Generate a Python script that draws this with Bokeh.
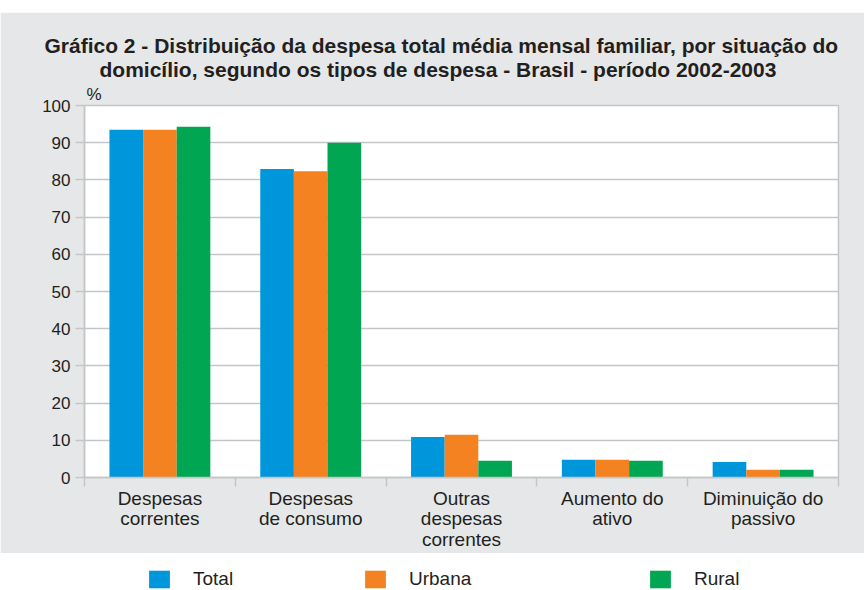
from bokeh.plotting import figure
from bokeh.models import Range1d, FixedTicker, Legend, LegendItem, ColumnDataSource, Title, Spacer
from bokeh.layouts import column
from bokeh.embed import file_html
from bokeh.resources import INLINE

# ---- data ----
categories = ["Despesas\ncorrentes", "Despesas\nde consumo", "Outras\ndespesas\ncorrentes",
              "Aumento do\nativo", "Diminuição do\npassivo"]
series_names = ["Total", "Urbana", "Rural"]
total = [93.5, 82.9, 10.9, 4.8, 4.2]
urbana = [93.5, 82.3, 11.5, 4.8, 2.1]
rural = [94.3, 90.0, 4.5, 4.5, 2.1]
y_ticks = list(range(0, 101, 10))
title_lines = ["Gráfico 2 - Distribuição da despesa total média mensal familiar, por situação do",
               "domicílio, segundo os tipos de despesa - Brasil - período 2002-2003"]
unit_label = "%"

colors = ["#0096db", "#f58220", "#00a651"]
FONT = "Liberation Sans"
TXT = "#231f20"
GRID = "#c4c5c7"
BG = "#e6e7e8"

n = len(categories)
p = figure(width=864, height=541, x_range=Range1d(0, n), y_range=Range1d(0, 100),
           output_backend="svg", toolbar_location=None,
           min_border_left=84, min_border_right=26, min_border_top=93, min_border_bottom=76,
           background_fill_color="white", border_fill_color=BG,
           outline_line_color=GRID, outline_line_width=1.5)

bar_w = 0.223
series = [total, urbana, rural]
for s_i, (vals, col) in enumerate(zip(series, colors)):
    xs = [i + 0.5 + (s_i - 1) * bar_w for i in range(n)]
    src = ColumnDataSource(dict(x=xs, top=vals))
    p.vbar(x="x", top="top", width=bar_w, source=src, fill_color=col, line_color=None)

# y axis
p.yaxis.ticker = FixedTicker(ticks=y_ticks)
p.yaxis.minor_tick_line_color = None
p.yaxis.major_tick_in = 0
p.yaxis.major_tick_out = 9
p.yaxis.major_tick_line_color = GRID
p.yaxis.major_tick_line_width = 1.5
p.yaxis.axis_line_color = GRID
p.yaxis.axis_line_width = 1.5
p.yaxis.major_label_text_font = FONT
p.yaxis.major_label_text_font_size = "17px"
p.yaxis.major_label_text_color = TXT
p.yaxis.major_label_standoff = 5
p.yaxis.axis_label_standoff = 0

# x axis: labels at category centres, separators as minor ticks
centers = [i + 0.5 for i in range(n)]
p.xaxis.ticker = FixedTicker(ticks=centers, minor_ticks=list(range(n + 1)))
p.xaxis.major_label_overrides = {c: cat for c, cat in zip(centers, categories)}
p.xaxis.major_tick_line_color = None
p.xaxis.major_tick_in = 0
p.xaxis.major_tick_out = 0
p.xaxis.minor_tick_in = 0
p.xaxis.minor_tick_out = 9
p.xaxis.minor_tick_line_color = GRID
p.xaxis.minor_tick_line_width = 1.5
p.xaxis.axis_line_color = GRID
p.xaxis.axis_line_width = 1.5
p.xaxis.major_label_text_font = FONT
p.xaxis.major_label_text_font_size = "19px"
p.xaxis.major_label_text_color = TXT
p.xaxis.major_label_text_line_height = 0.98
p.xaxis.major_label_standoff = 1
p.xaxis.axis_label_standoff = 0

p.xgrid.visible = False
p.ygrid.ticker = FixedTicker(ticks=y_ticks)
p.ygrid.grid_line_color = GRID
p.ygrid.grid_line_width = 1.5

# titles (first added sits nearest the plot)
p.add_layout(Title(text=unit_label, align="left", offset=2, standoff=3,
                   text_font=FONT, text_font_size="17px", text_font_style="normal",
                   text_color=TXT), "above")
p.add_layout(Title(text=title_lines[1], align="left", offset=15, standoff=1,
                   text_font=FONT, text_font_size="21px", text_font_style="bold",
                   text_color=TXT), "above")
p.add_layout(Title(text=title_lines[0], align="left", offset=-40, standoff=-2,
                   text_font=FONT, text_font_size="21px", text_font_style="bold",
                   text_color=TXT), "above")

# legend figure
p2 = figure(width=864, height=37, output_backend="svg", toolbar_location=None,
            min_border_left=84, min_border_right=26, min_border_top=0, min_border_bottom=0,
            x_axis_location=None, y_axis_location=None,
            background_fill_color="white", border_fill_color="white",
            outline_line_color=None)
p2.grid.visible = False
legend_x = [62, 278, 563]
for name, col, lx in zip(series_names, colors, legend_x):
    r = p2.vbar(x=[0], top=[0], bottom=[0], width=0, fill_color=col, line_color=None)
    leg = Legend(items=[LegendItem(label=name, renderers=[r])], location=(lx, 0),
                 orientation="horizontal", glyph_width=26, glyph_height=22,
                 label_standoff=21, label_height=22, padding=0, margin=0, spacing=0,
                 border_line_color=None, background_fill_alpha=0,
                 label_text_font=FONT, label_text_font_size="19px", label_text_color=TXT)
    p2.add_layout(leg)

layout = column(Spacer(width=864, height=12), p, p2)
open("out.html", "w").write(file_html(layout, INLINE))
